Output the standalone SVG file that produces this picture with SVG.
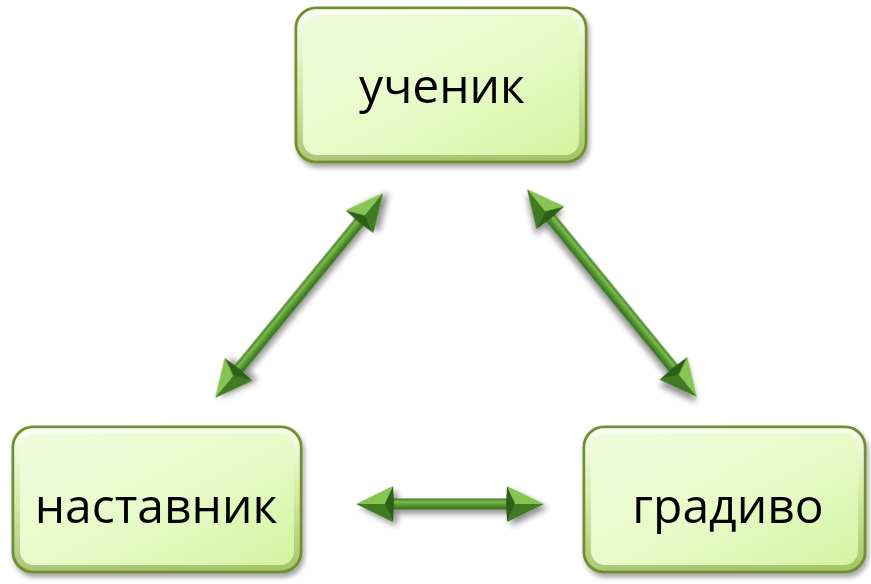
<svg xmlns="http://www.w3.org/2000/svg" xmlns:xlink="http://www.w3.org/1999/xlink" width="871" height="584" viewBox="0 0 871 584">
  <defs>
    <style>
      .box { fill: url(#boxFill); stroke: #718f30; stroke-width: 3; }
      .boxInner { fill: none; stroke: url(#innerEdge); stroke-width: 6; opacity: 0.6; }
      .label { font-family: "Open Sans", "Liberation Sans", sans-serif; font-size: 48px; fill: #000; text-anchor: middle; }
      .shaft { fill: url(#shaftFill); }
      .facetL { fill: #86c452; }
      .facetD { fill: #3f7a22; }
      .facetB { fill: #2f5f18; }
    </style>
    <linearGradient id="boxFill" x1="0" y1="0" x2="1" y2="1">
      <stop offset="0" stop-color="#f1fbdd"/>
      <stop offset="0.5" stop-color="#e8fbca"/>
      <stop offset="1" stop-color="#d2f39e"/>
    </linearGradient>
    <linearGradient id="innerEdge" x1="0" y1="0" x2="0" y2="1">
      <stop offset="0" stop-color="#ffffff"/>
      <stop offset="0.5" stop-color="#c8e08f"/>
      <stop offset="1" stop-color="#86a545"/>
    </linearGradient>
    <linearGradient id="shaftFill" x1="0" y1="0" x2="0" y2="1">
      <stop offset="0" stop-color="#3b7420"/>
      <stop offset="0.3" stop-color="#7ebd4c"/>
      <stop offset="0.55" stop-color="#5c9c33"/>
      <stop offset="1" stop-color="#336a1c"/>
    </linearGradient>
    <filter id="shadow" x="-20%" y="-20%" width="140%" height="140%">
      <feGaussianBlur in="SourceAlpha" stdDeviation="3"/>
      <feOffset dx="4" dy="4" result="b"/>
      <feComponentTransfer><feFuncA type="linear" slope="0.45"/></feComponentTransfer>
      <feMerge><feMergeNode/><feMergeNode in="SourceGraphic"/></feMerge>
    </filter>
    <filter id="boxShadow" x="-10%" y="-10%" width="120%" height="125%">
      <feGaussianBlur in="SourceAlpha" stdDeviation="2.5"/>
      <feOffset dx="2" dy="4"/>
      <feComponentTransfer><feFuncA type="linear" slope="0.35"/></feComponentTransfer>
      <feMerge><feMergeNode/><feMergeNode in="SourceGraphic"/></feMerge>
    </filter>
    <g id="head">
      <polygon class="facetL" points="0,0 -37,-18 -29,0"/>
      <polygon class="facetD" points="0,0 -29,0 -37,18"/>
      <polygon class="facetB" points="-37,-18 -29,0 -37,18 -38,0"/>
    </g>
  </defs>

  <g id="node-uchenik" filter="url(#boxShadow)">
    <rect class="box" x="296" y="8" width="290" height="154" rx="20"/>
    <rect class="boxInner" x="300" y="12" width="282" height="146" rx="17"/>
    <text class="label" x="442" y="103">ученик</text>
  </g>

  <g id="node-nastavnik" filter="url(#boxShadow)">
    <rect class="box" x="13" y="427" width="288" height="145" rx="20"/>
    <rect class="boxInner" x="17" y="431" width="280" height="137" rx="17"/>
    <text class="label" x="156" y="523">наставник</text>
  </g>

  <g id="node-gradivo" filter="url(#boxShadow)">
    <rect class="box" x="584" y="427" width="281" height="145" rx="20"/>
    <rect class="boxInner" x="588" y="431" width="273" height="137" rx="17"/>
    <text class="label" x="728" y="523">градиво</text>
  </g>

  <g id="connectors">
    <g id="arrow-uchenik-nastavnik" filter="url(#shadow)" transform="translate(299,295.5) rotate(-50.66)">
      <rect class="shaft" x="-104" y="-5.5" width="208" height="11"/>
      <use xlink:href="#head" transform="translate(132.5,0)"/>
      <use xlink:href="#head" transform="translate(-132.5,0) scale(-1,1)"/>
    </g>
    <g id="arrow-uchenik-gradivo" filter="url(#shadow)" transform="translate(612,293) rotate(50.74)">
      <rect class="shaft" x="-106" y="-5.5" width="212" height="11"/>
      <use xlink:href="#head" transform="translate(134.3,0)"/>
      <use xlink:href="#head" transform="translate(-134.3,0) scale(-1,1)"/>
    </g>
    <g id="arrow-nastavnik-gradivo" filter="url(#shadow)" transform="translate(450,504)">
      <rect class="shaft" x="-66" y="-5.5" width="132" height="11"/>
      <use xlink:href="#head" transform="translate(94,0)"/>
      <use xlink:href="#head" transform="translate(-94,0) scale(-1,1)"/>
    </g>
  </g>
</svg>
